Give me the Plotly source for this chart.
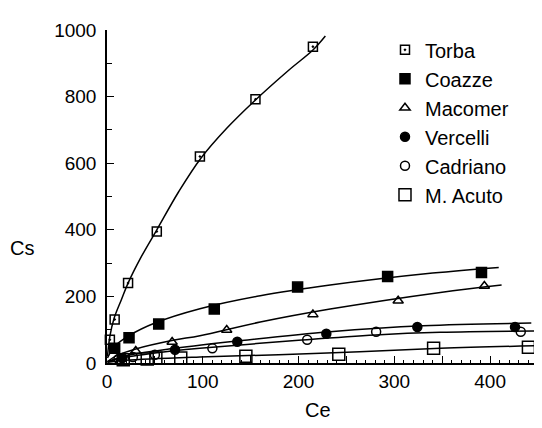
import plotly.graph_objects as go

# ---- data points ----
torba_ce = [3, 8, 22, 52, 97, 155, 215]
torba_cs = [70, 131, 240, 395, 620, 792, 950]
coazze_ce = [8, 23, 54, 112, 199, 293, 391]
coazze_cs = [44, 76, 117, 162, 228, 260, 272]
macomer_ce = [30, 68, 125, 215, 304, 394]
macomer_cs = [36, 63, 99, 146, 187, 231]
vercelli_ce = [16, 71, 136, 229, 324, 426]
vercelli_cs = [15, 40, 64, 88, 108, 108]
cadriano_ce = [12, 27, 50, 110, 209, 281, 432]
cadriano_cs = [12, 18, 25, 44, 70, 94, 94]
acuto_ce = [17, 42, 51, 77, 145, 242, 341, 440]
acuto_cs = [10, 12, 15, 15, 20, 26, 44, 47]

# ---- fitted curves ----
torba_fit_ce = [0.5, 3, 7.5, 15, 22, 35, 52, 75, 98, 125, 155, 190, 215, 228]
torba_fit_cs = [20, 80, 135, 190, 240, 315, 400, 515, 615, 705, 790, 880, 940, 982]
coazze_fit_ce = [0.5, 8, 23, 50, 97, 160, 233, 340, 409]
coazze_fit_cs = [15, 50, 82, 120, 163, 202, 234, 270, 287]
macomer_fit_ce = [0.5, 10, 30, 69, 97, 160, 233, 348, 412]
macomer_fit_cs = [4, 22, 42, 68, 82, 123, 162, 212, 234]
vercelli_fit_ce = [0.5, 20, 71, 136, 233, 330, 443]
vercelli_fit_cs = [4, 22, 44, 66, 94, 112, 120]
cadriano_fit_ce = [0.5, 15, 50, 97, 200, 280, 348, 449]
cadriano_fit_cs = [3, 15, 30, 44, 68, 84, 92, 96]
acuto_fit_ce = [0.5, 20, 97, 223, 348, 449]
acuto_fit_cs = [2, 8, 18, 29, 44, 52]

names = ["Torba", "Coazze", "Macomer", "Vercelli", "Cadriano", "M. Acuto"]
symbols = ["square-open-dot", "square", "triangle-up-open", "circle", "circle-open", "square-open"]
sizes = [9, 10, 9, 9, 9, 12]

pts = [(torba_ce, torba_cs), (coazze_ce, coazze_cs), (macomer_ce, macomer_cs),
       (vercelli_ce, vercelli_cs), (cadriano_ce, cadriano_cs), (acuto_ce, acuto_cs)]
fits = [(torba_fit_ce, torba_fit_cs), (coazze_fit_ce, coazze_fit_cs),
        (macomer_fit_ce, macomer_fit_cs), (vercelli_fit_ce, vercelli_fit_cs),
        (cadriano_fit_ce, cadriano_fit_cs), (acuto_fit_ce, acuto_fit_cs)]

fig = go.Figure()
for (fx, fy) in fits:
    fig.add_trace(go.Scatter(x=fx, y=fy, mode="lines",
                             line=dict(color="black", width=1.5, shape="spline", smoothing=1.0),
                             showlegend=False, hoverinfo="skip"))
for name, sym, sz, (px, py) in zip(names, symbols, sizes, pts):
    fig.add_trace(go.Scatter(x=px, y=py, mode="markers", name=name,
                             marker=dict(symbol=sym, size=sz, color="black",
                                         line=dict(color="black", width=1.5)),
                             cliponaxis=False))

x_major = [0, 50, 100, 150, 200, 250, 300, 350, 400, 450]
x_labels = ["0", "", "100", "", "200", "", "300", "", "400", ""]
y_major = [0, 200, 400, 600, 800, 1000]
y_labels = ["0", "200", "400", "600", "800", "1000"]

fam = "Liberation Sans, Arial, sans-serif"
tick_font = dict(family=fam, size=19, color="black")
leg_font = dict(family=fam, size=20, color="black")
title_font = dict(family=fam, size=20, color="black")

# page has an 8px body margin: compensate so the plot area lands at 107..538 x 20..363
ML, MR, MT, MB = 99, 12, 12, 73
W, H = 542, 428
pw, ph = W - ML - MR, H - MT - MB

fig.update_layout(
    width=W, height=H,
    margin=dict(l=ML, r=MR, t=MT, b=MB),
    paper_bgcolor="white", plot_bgcolor="white",
    font=tick_font,
    showlegend=True,
    legend=dict(x=0.645, y=0.999, xanchor="left", yanchor="top", bgcolor="rgba(0,0,0,0)",
                font=leg_font, tracegroupgap=0, itemwidth=30),
    xaxis=dict(range=[0, 450], showgrid=False, zeroline=False, showline=True,
               linecolor="black", linewidth=1.5, ticks="inside", ticklen=7, tickwidth=1.2,
               tickcolor="black", tickvals=x_major, ticktext=x_labels, tickfont=tick_font,
               minor=dict(ticks="inside", ticklen=3, dtick=10, tickcolor="black", tickwidth=1)),
    yaxis=dict(range=[0, 1000], showgrid=False, zeroline=False, showline=True,
               linecolor="black", linewidth=1.5, ticks="inside", ticklen=7, tickwidth=1.2,
               tickcolor="black", tickvals=y_major, ticktext=y_labels, tickfont=tick_font,
               ticklabelstandoff=5,
               minor=dict(ticks="inside", ticklen=5, dtick=100, tickcolor="black", tickwidth=1)),
    annotations=[
        dict(text="Cs", x=(22 - 107) / pw, y=(363 - 245) / ph, xref="paper", yref="paper",
             xanchor="center", yanchor="middle", showarrow=False, font=title_font),
        dict(text="Ce", x=(318 - 107) / pw, y=(363 - 411) / ph, xref="paper", yref="paper",
             xanchor="center", yanchor="middle", showarrow=False, font=title_font),
    ],
)

fig.write_html("out.html")
